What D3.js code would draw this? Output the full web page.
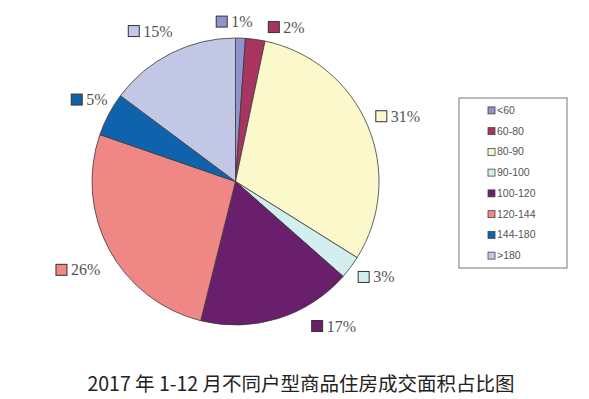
<!DOCTYPE html>
<html>
<head>
<meta charset="utf-8">
<script src="https://cdn.jsdelivr.net/npm/d3@7"></script>
<style>
  body { margin: 0; background: #fff; }
  svg { display: block; }
</style>
</head>
<body>
<div id="chart"></div>
<script>
// data (percent of area)
const categories = ["<60", "60-80", "80-90", "90-100", "100-120", "120-144", "144-180", ">180"];
const shares = [1.1, 2.2, 30.6, 2.6, 17.4, 26.4, 4.9, 14.8];
const colors = ["#9094cc", "#a83460", "#fbf8cc", "#d2eeee", "#6a1f6c", "#ef8784", "#0f63ad", "#c3c7e6"];
const title = "2017 年 1-12 月不同户型商品住房成交面积占比图";

const width = 589, height = 399;
const cx = 235.5, cy = 181.5, radius = 143.5;

// small hand nudges so labels sit where Excel put them (layout only)
const labelNudge = [[-21, 6], [14, 10], [-8, 0], [-6, -3], [31, -13], [8, 10], [16, -4], [9, -2]];

const svg = d3.select("#chart")
  .append("svg")
  .attr("width", width)
  .attr("height", height);

const pie = d3.pie().sort(null).value(d => d);
const arcs = pie(shares);
const arc = d3.arc().innerRadius(0).outerRadius(radius);

const g = svg.append("g")
  .attr("transform", `translate(${cx},${cy})`);

g.selectAll("path")
  .data(arcs)
  .enter()
  .append("path")
  .attr("d", arc)
  .attr("fill", (d, i) => colors[i])
  .attr("stroke", "#3a3a3a")
  .attr("stroke-width", 0.8);

// outside labels: swatch + percent
const labelR = radius + 22;
const lab = g.selectAll("g.lab")
  .data(arcs)
  .enter()
  .append("g")
  .attr("class", "lab")
  .attr("transform", (d, i) => {
    const a = (d.startAngle + d.endAngle) / 2;
    const x = labelR * Math.sin(a), y = -labelR * Math.cos(a);
    const w = d.value >= 9.5 ? 46 : 38;
    const left = Math.sin(a) >= 0 ? x - 4 : x - w + 4;
    return `translate(${left + labelNudge[i][0]},${y + labelNudge[i][1]})`;
  });

lab.append("rect")
  .attr("x", 0).attr("y", -6)
  .attr("width", 11).attr("height", 11)
  .attr("fill", (d, i) => colors[i])
  .attr("stroke", "#333")
  .attr("stroke-width", 1);

lab.append("text")
  .attr("x", 15).attr("y", 5)
  .attr("font-family", "'Liberation Serif', 'DejaVu Serif', serif")
  .attr("font-size", 16)
  .attr("fill", "#555")
  .text(d => Math.round(d.value) + "%");

// legend
const legend = svg.append("g").attr("transform", "translate(459,98)");
legend.append("rect")
  .attr("width", 108).attr("height", 170)
  .attr("fill", "#fff")
  .attr("stroke", "#777")
  .attr("stroke-width", 1);

const row = d3.scaleBand().domain(categories).range([2, 168]);

const item = legend.selectAll("g.item")
  .data(categories)
  .enter()
  .append("g")
  .attr("class", "item")
  .attr("transform", d => `translate(0,${row(d) + row.bandwidth() / 2})`);

item.append("rect")
  .attr("x", 29).attr("y", -3.5)
  .attr("width", 7).attr("height", 7)
  .attr("fill", (d, i) => colors[i])
  .attr("stroke", "#444")
  .attr("stroke-width", 0.8);

item.append("text")
  .attr("x", 38).attr("y", 3.5)
  .attr("font-family", "'Liberation Sans', Arial, sans-serif")
  .attr("font-size", 10.5)
  .attr("fill", "#555")
  .text(d => d);

// title
svg.append("text")
  .attr("x", 301).attr("y", 391)
  .attr("text-anchor", "middle")
  .attr("font-family", "'Noto Sans CJK SC', 'Noto Sans', sans-serif")
  .attr("font-size", 19.5)
  .attr("fill", "#222")
  .text(title);
</script>
</body>
</html>
